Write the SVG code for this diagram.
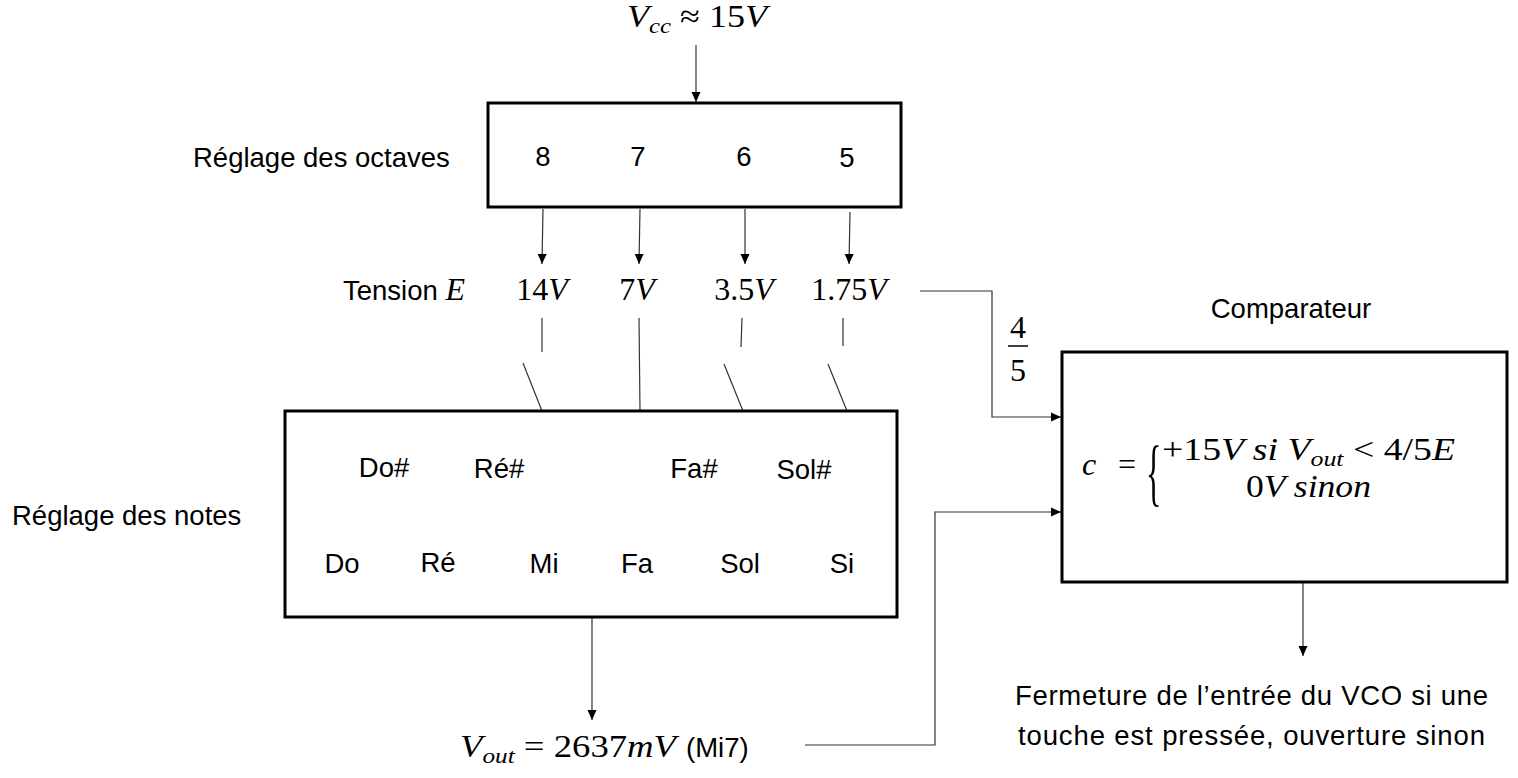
<svg xmlns="http://www.w3.org/2000/svg" width="1518" height="778" viewBox="0 0 1518 778">
<style>
.box{fill:none;stroke:#000;stroke-width:3}
.ln{fill:none;stroke:#333;stroke-width:1.2}
.t{font-family:"Liberation Sans",Arial,sans-serif;font-size:27.5px;fill:#000}
.m{font-family:"Liberation Serif","Times New Roman",serif;font-size:32px;fill:#000}
.i{font-style:italic}
.sub{font-size:22px;font-style:italic}
</style>
<defs>
<marker id="ah" markerUnits="userSpaceOnUse" markerWidth="12" markerHeight="12" viewBox="0 0 12 12" refX="11" refY="6" orient="auto">
<path d="M1,1.5 L11,6 L1,10.5 z" fill="#000"/>
</marker>
</defs>
<rect width="1518" height="778" fill="#fff"/>

<g id="connectors">
<line class="ln" x1="696" y1="45" x2="696" y2="102" marker-end="url(#ah)"/>
<line class="ln" x1="543" y1="209" x2="542" y2="264" marker-end="url(#ah)"/>
<line class="ln" x1="640" y1="209" x2="639" y2="264" marker-end="url(#ah)"/>
<line class="ln" x1="745" y1="209" x2="745" y2="264" marker-end="url(#ah)"/>
<line class="ln" x1="850" y1="212" x2="849" y2="264" marker-end="url(#ah)"/>
<line class="ln" x1="542" y1="318" x2="542" y2="352"/>
<line class="ln" x1="639" y1="318" x2="640" y2="411"/>
<line class="ln" x1="742" y1="318" x2="741" y2="347"/>
<line class="ln" x1="843" y1="318" x2="843" y2="346"/>
<line class="ln" x1="523" y1="363" x2="542" y2="411"/>
<line class="ln" x1="724" y1="364" x2="743" y2="411"/>
<line class="ln" x1="828" y1="364" x2="847" y2="411"/>
<path class="ln" d="M920,291 H992 V417 H1061" marker-end="url(#ah)"/>
<path class="ln" d="M805,745 H935 V512 H1061" marker-end="url(#ah)"/>
<line class="ln" x1="592" y1="618" x2="592" y2="720" marker-end="url(#ah)"/>
<line class="ln" x1="1303" y1="583" x2="1303" y2="656" marker-end="url(#ah)"/>
</g>

<g id="vcc">
<text class="m" x="627" y="27" textLength="140" lengthAdjust="spacingAndGlyphs"><tspan class="i">V</tspan><tspan class="sub" dy="6">cc</tspan><tspan dy="-6"> ≈ 15</tspan><tspan class="i">V</tspan></text>
</g>

<g id="octaves">
<rect class="box" x="488" y="103" width="413" height="104"/>
<text class="t" x="543" y="166" text-anchor="middle">8</text>
<text class="t" x="638" y="166" text-anchor="middle">7</text>
<text class="t" x="744" y="166" text-anchor="middle">6</text>
<text class="t" x="847" y="167" text-anchor="middle">5</text>
</g>
<g id="label-octaves"><text class="t" x="193" y="167">Réglage des octaves</text></g>

<g id="tension">
<text x="343" y="300"><tspan class="t">Tension </tspan><tspan class="m i">E</tspan></text>
<text class="m" x="542" y="300" text-anchor="middle">14<tspan class="i">V</tspan></text>
<text class="m" x="637" y="300" text-anchor="middle">7<tspan class="i">V</tspan></text>
<text class="m" x="744" y="300" text-anchor="middle">3.5<tspan class="i">V</tspan></text>
<text class="m" x="849" y="300" text-anchor="middle">1.75<tspan class="i">V</tspan></text>
</g>

<g id="notes">
<rect class="box" x="285" y="411" width="612" height="206"/>
<text class="t" x="384" y="477" text-anchor="middle">Do#</text>
<text class="t" x="499" y="478" text-anchor="middle">Ré#</text>
<text class="t" x="694" y="478" text-anchor="middle">Fa#</text>
<text class="t" x="804" y="479" text-anchor="middle">Sol#</text>
<text class="t" x="342" y="573" text-anchor="middle">Do</text>
<text class="t" x="438" y="572" text-anchor="middle">Ré</text>
<text class="t" x="544" y="573" text-anchor="middle">Mi</text>
<text class="t" x="637" y="573" text-anchor="middle">Fa</text>
<text class="t" x="740" y="573" text-anchor="middle">Sol</text>
<text class="t" x="842" y="573" text-anchor="middle">Si</text>
</g>
<g id="label-notes"><text class="t" x="12" y="525">Réglage des notes</text></g>

<g id="vout">
<text class="m" x="460" y="757" textLength="216" lengthAdjust="spacingAndGlyphs"><tspan class="i">V</tspan><tspan class="sub" dy="6">out</tspan><tspan dy="-6"> = 2637</tspan><tspan class="i">mV</tspan></text>
<text class="t" x="686" y="757">(Mi7)</text>
</g>

<g id="fraction">
<text class="m" x="1018" y="338" text-anchor="middle">4</text>
<line x1="1008" y1="346" x2="1028" y2="346" stroke="#000" stroke-width="1.5"/>
<text class="m" x="1018" y="381" text-anchor="middle">5</text>
</g>

<g id="comparateur">
<text class="t" x="1291" y="318" text-anchor="middle">Comparateur</text>
<rect class="box" x="1062" y="352" width="445" height="230"/>
<text class="m" x="1082" y="475" textLength="54" lengthAdjust="spacing"><tspan class="i">c</tspan> =</text>
<text class="m" transform="translate(1146,497) scale(1,2.3)" font-size="40">{</text>
<text class="m" x="1162" y="460" textLength="293" lengthAdjust="spacingAndGlyphs">+15<tspan class="i">V si V</tspan><tspan class="sub" dy="6">out</tspan><tspan dy="-6"> &lt; 4/5</tspan><tspan class="i">E</tspan></text>
<text class="m" x="1246" y="497" textLength="125" lengthAdjust="spacingAndGlyphs">0<tspan class="i">V sinon</tspan></text>
</g>

<g id="sortie">
<text class="t" x="1015" y="705" textLength="473" lengthAdjust="spacing">Fermeture de l’entrée du VCO si une</text>
<text class="t" x="1018" y="745" textLength="467" lengthAdjust="spacing">touche est pressée, ouverture sinon</text>
</g>
</svg>
